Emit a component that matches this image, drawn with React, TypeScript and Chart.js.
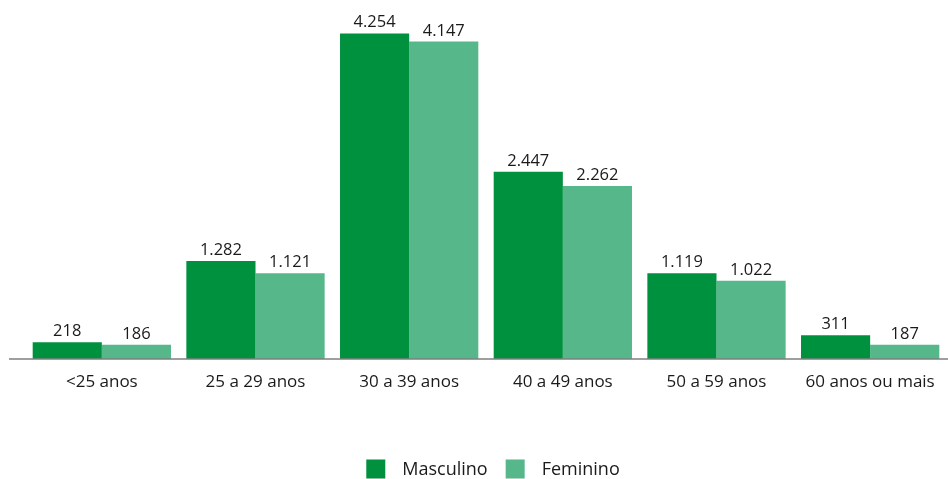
import React, { useEffect, useRef } from "react";
import { Chart, registerables } from "chart.js";

Chart.register(...registerables);

const categories = ["<25 anos", "25 a 29 anos", "30 a 39 anos", "40 a 49 anos", "50 a 59 anos", "60 anos ou mais"];
const masculino = [218, 1282, 4254, 2447, 1119, 311];
const feminino = [186, 1121, 4147, 2262, 1022, 187];
const seriesNames = ["Masculino", "Feminino"];
const colors = ["#00913F", "#55B78A"];

const FONT = "'Open Sans', 'Liberation Sans', sans-serif";

const fmt = (v: number) => v.toLocaleString("de-DE");

const labelsPlugin = {
  id: "valueLabels",
  afterDatasetsDraw(chart: any) {
    const ctx = chart.ctx;
    ctx.save();
    ctx.font = `16.5px ${FONT}`;
    ctx.fillStyle = "#1a1a1a";
    ctx.textAlign = "center";
    ctx.textBaseline = "alphabetic";
    chart.data.datasets.forEach((ds: any, i: number) => {
      const meta = chart.getDatasetMeta(i);
      meta.data.forEach((bar: any, j: number) => {
        ctx.fillText(fmt(ds.data[j]), bar.x, bar.y - 6);
      });
    });
    // baseline
    const a = chart.chartArea;
    ctx.strokeStyle = "#7f7f7f";
    ctx.lineWidth = 1.5;
    ctx.beginPath();
    ctx.moveTo(9, a.bottom);
    ctx.lineTo(chart.width, a.bottom);
    ctx.stroke();
    ctx.restore();
  },
};

const legendPlugin = {
  id: "customLegend",
  afterDraw(chart: any) {
    const ctx = chart.ctx;
    ctx.save();
    ctx.font = `18px ${FONT}`;
    const box = 19;
    const gap = 17;
    const itemGap = 18;
    const widths = seriesNames.map((n) => ctx.measureText(n).width);
    const total = widths.reduce((s, w) => s + box + gap + w, 0) + itemGap * (seriesNames.length - 1);
    let x = 493 - total / 2;
    const cy = 469;
    ctx.textBaseline = "middle";
    ctx.textAlign = "left";
    seriesNames.forEach((n, i) => {
      ctx.fillStyle = colors[i];
      ctx.fillRect(x, cy - box / 2, box, box);
      ctx.fillStyle = "#1a1a1a";
      ctx.fillText(n, x + box + gap, cy + 1);
      x += box + gap + widths[i] + itemGap;
    });
    ctx.restore();
  },
};

export default function App() {
  const ref = useRef<HTMLCanvasElement>(null);
  useEffect(() => {
    const chart = new Chart(ref.current!, {
      type: "bar",
      data: {
        labels: categories,
        datasets: [
          { label: seriesNames[0], data: masculino, backgroundColor: colors[0] },
          { label: seriesNames[1], data: feminino, backgroundColor: colors[1] },
        ],
      },
      options: {
        animation: false,
        responsive: false,
        maintainAspectRatio: false,
        layout: { padding: { left: 25, right: 1, top: 10, bottom: 0 } },
        datasets: { bar: { categoryPercentage: 0.9, barPercentage: 1.0 } },
        plugins: { legend: { display: false }, tooltip: { enabled: false } },
        scales: {
          x: {
            grid: { display: false, drawTicks: false },
            border: { display: false },
            ticks: { color: "#1a1a1a", font: { size: 17, family: FONT }, padding: 13, maxRotation: 0, autoSkip: false },
            afterFit: (s: any) => { s.height = 120; },
          },
          y: { display: false, min: 0, max: 4560 },
        },
      },
      plugins: [labelsPlugin, legendPlugin],
    });
    return () => chart.destroy();
  }, []);
  return (
    <div style={{ position: "fixed", left: 0, top: 0, width: 948, height: 479, background: "#fff" }}>
      <canvas ref={ref} width={948} height={479} style={{ width: 948, height: 479 }} />
    </div>
  );
}
